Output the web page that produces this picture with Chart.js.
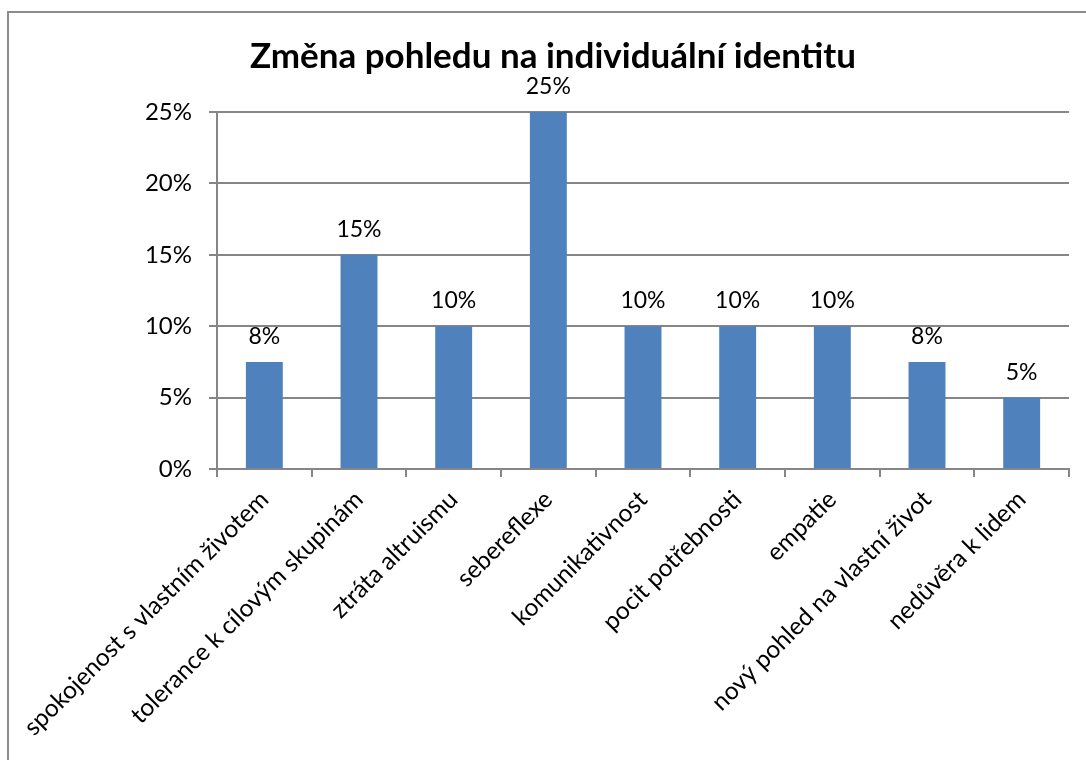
<!DOCTYPE html>
<html>
<head>
<meta charset="utf-8">
<script src="https://cdn.jsdelivr.net/npm/chart.js@4/dist/chart.umd.min.js"></script>
<style>
  html, body { margin: 0; padding: 0; background: #fff; }
  #wrap { width: 1086px; height: 760px; position: relative; }
</style>
</head>
<body>
<div id="wrap"><canvas id="c" width="1086" height="760"></canvas></div>
<script>
const chartTitle = "Změna pohledu na individuální identitu";
const categories = [
  "spokojenost s vlastním životem",
  "tolerance k cílovým skupinám",
  "ztráta altruismu",
  "sebereflexe",
  "komunikativnost",
  "pocit potřebnosti",
  "empatie",
  "nový pohled na vlastní život",
  "nedůvěra k lidem"
];
const values = [7.5, 15, 10, 25, 10, 10, 10, 7.5, 5];
const yTicks = [0, 5, 10, 15, 20, 25];

const FONT = "Lato, 'Open Sans', sans-serif";
const GRID = "#868686";

const framePlugin = {
  id: 'frame',
  beforeDraw(chart) {
    const ctx = chart.ctx;
    ctx.save();
    ctx.fillStyle = '#ffffff';
    ctx.fillRect(0, 0, chart.width, chart.height);
    ctx.strokeStyle = '#8c8c8c';
    ctx.lineWidth = 2;
    ctx.strokeRect(8, 12, chart.width + 20, chart.height + 20);
    ctx.restore();
  }
};

const valueLabels = {
  id: 'valueLabels',
  afterDatasetsDraw(chart) {
    const ctx = chart.ctx;
    const meta = chart.getDatasetMeta(0);
    ctx.save();
    ctx.font = "23px " + FONT;
    ctx.fillStyle = '#000';
    ctx.textAlign = 'center';
    ctx.textBaseline = 'alphabetic';
    meta.data.forEach((bar, i) => {
      const v = chart.data.datasets[0].data[i];
      ctx.fillText(Math.round(v) + '%', bar.x, bar.y - 18);
    });
    ctx.restore();
  }
};

new Chart(document.getElementById('c'), {
  type: 'bar',
  data: {
    labels: categories,
    datasets: [{
      data: values,
      backgroundColor: '#4F81BD',
      borderWidth: 0,
      categoryPercentage: 0.39,
      barPercentage: 1.0
    }]
  },
  options: {
    responsive: false,
    animation: false,
    devicePixelRatio: 1,
    layout: { padding: { left: 37, right: 17, top: 0, bottom: 0 } },
    plugins: {
      legend: { display: false },
      tooltip: { enabled: false },
      title: {
        display: true,
        text: chartTitle,
        color: '#000',
        font: { family: FONT, size: 35, weight: 'bold', lineHeight: 1.2 },
        padding: { top: 36, bottom: 34 }
      }
    },
    scales: {
      x: {
        offset: true,
        grid: {
          offset: true,
          drawOnChartArea: false,
          drawTicks: true,
          tickLength: 8,
          color: GRID,
          lineWidth: 2
        },
        border: { display: true, color: GRID, width: 2 },
        ticks: {
          maxRotation: 45,
          minRotation: 45,
          autoSkip: false,
          padding: 8,
          color: '#000',
          font: { family: FONT, size: 24.5 }
        },
        afterFit(scale) { scale.height = 291; }
      },
      y: {
        min: 0,
        max: 25,
        afterBuildTicks(scale) { scale.ticks = yTicks.map(v => ({ value: v })); },
        grid: {
          color: GRID,
          lineWidth: 2,
          drawTicks: true,
          tickLength: 8
        },
        border: { display: true, color: GRID, width: 2 },
        ticks: {
          padding: 17,
          color: '#000',
          font: { family: FONT, size: 24 },
          callback: (v) => v + '%'
        },
        afterFit(scale) { scale.width = 180; }
      }
    }
  },
  plugins: [framePlugin, valueLabels]
});
</script>
</body>
</html>
